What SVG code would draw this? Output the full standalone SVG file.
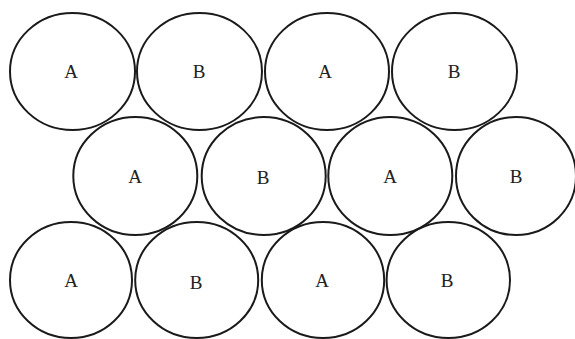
<svg xmlns="http://www.w3.org/2000/svg" width="575" height="339" viewBox="0 0 575 339">
<style>
.c{fill:none;stroke:#1a1a1a;stroke-width:2}
.t{font-family:"Liberation Serif","Times New Roman",serif;font-size:19px;fill:#222;text-anchor:middle}
</style>
<rect width="575" height="339" fill="#fff"/>
<g id="r1a1"><ellipse class="c" cx="72.5" cy="71.5" rx="62.5" ry="58.5"/><text class="t" x="71" y="78">A</text></g>
<g id="r1b1"><ellipse class="c" cx="199.5" cy="71.5" rx="62.5" ry="58.5"/><text class="t" x="199" y="78">B</text></g>
<g id="r1a2"><ellipse class="c" cx="327" cy="71.5" rx="62" ry="58.5"/><text class="t" x="325" y="78">A</text></g>
<g id="r1b2"><ellipse class="c" cx="454.5" cy="71.5" rx="62.5" ry="58.5"/><text class="t" x="454" y="78">B</text></g>
<g id="r2a1"><ellipse class="c" cx="135.3" cy="176" rx="62" ry="59"/><text class="t" x="135" y="183">A</text></g>
<g id="r2b1"><ellipse class="c" cx="263.7" cy="176" rx="62" ry="59"/><text class="t" x="263" y="184">B</text></g>
<g id="r2a2"><ellipse class="c" cx="390.3" cy="176" rx="62" ry="59"/><text class="t" x="390" y="183">A</text></g>
<g id="r2b2"><ellipse class="c" cx="516" cy="176" rx="60" ry="59"/><text class="t" x="516" y="183">B</text></g>
<g id="r3a1"><ellipse class="c" cx="71" cy="280" rx="61" ry="58"/><text class="t" x="71" y="287">A</text></g>
<g id="r3b1"><ellipse class="c" cx="196.7" cy="280" rx="61.5" ry="58"/><text class="t" x="196" y="289">B</text></g>
<g id="r3a2"><ellipse class="c" cx="323" cy="280" rx="61.2" ry="58"/><text class="t" x="322" y="287">A</text></g>
<g id="r3b2"><ellipse class="c" cx="448.3" cy="280" rx="61.7" ry="58"/><text class="t" x="447" y="287">B</text></g>
<g id="connectors"></g>
</svg>
